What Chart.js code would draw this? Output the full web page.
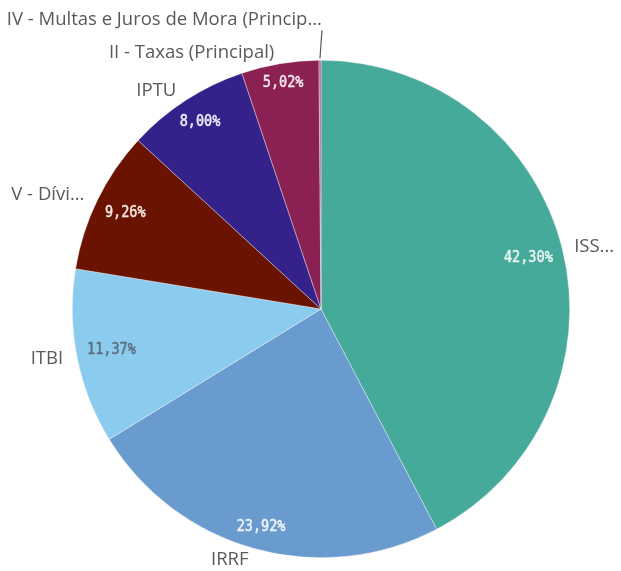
<!DOCTYPE html>
<html>
<head>
<meta charset="utf-8">
<script src="https://cdn.jsdelivr.net/npm/chart.js@4/dist/chart.umd.min.js"></script>
<style>
  html, body { margin: 0; padding: 0; background: #fff; }
</style>
</head>
<body>
<canvas id="myChart" width="621" height="571"></canvas>
<script>
const categories = ['ISS...', 'IRRF', 'ITBI', 'V - Dívi...', 'IPTU', 'II - Taxas (Principal)', 'IV - Multas e Juros de Mora (Princip...'];
const shares = [42.30, 23.92, 11.37, 9.26, 8.00, 5.02, 0.13];
const shareLabels = ['42,30%', '23,92%', '11,37%', '9,26%', '8,00%', '5,02%', ''];
const colors = ['#45aa99', '#6a9bce', '#8acbee', '#6a1300', '#35218a', '#8a2152', '#c85aa2'];
const valueColors = ['#e9f5f1', '#eef3fa', '#5d6f80', '#f1e6e2', '#ece9f6', '#f3e6ec', '#ffffff'];

// draws the outside names and the inside percentages
const sliceLabels = {
  id: 'sliceLabels',
  afterDatasetsDraw(chart) {
    const ctx = chart.ctx;
    const arcs = chart.getDatasetMeta(0).data;
    ctx.save();
    arcs.forEach((arc, i) => {
      const p = arc.getProps(['x', 'y', 'startAngle', 'endAngle', 'outerRadius']);
      const mid = (p.startAngle + p.endAngle) / 2;
      const cos = Math.cos(mid), sin = Math.sin(mid);
      const r = p.outerRadius;

      // percentage inside, pushed out towards the rim
      if (shareLabels[i]) {
        ctx.font = '15px "DejaVu Sans Mono"';
        const w = ctx.measureText(shareLabels[i]).width * 0.9;
        const h = 12;
        const d = r - 10 - Math.abs(cos) * w / 2 - Math.abs(sin) * h / 2;
        ctx.save();
        ctx.translate(p.x + cos * d, p.y + sin * d);
        ctx.scale(0.9, 1);
        ctx.fillStyle = valueColors[i];
        ctx.strokeStyle = valueColors[i];
        ctx.lineWidth = 0.5;
        ctx.textAlign = 'center';
        ctx.textBaseline = 'middle';
        ctx.fillText(shareLabels[i], 0, 0);
        ctx.strokeText(shareLabels[i], 0, 0);
        ctx.restore();
      }

      // name outside
      ctx.font = '18.5px "Open Sans"';
      ctx.fillStyle = '#595959';
      ctx.textBaseline = 'middle';
      let lx, ly;
      if (shares[i] < 1) {
        // tiny slice gets a leader line
        ctx.strokeStyle = '#595959';
        ctx.lineWidth = 1.2;
        ctx.beginPath();
        ctx.moveTo(p.x + cos * (r + 2), p.y + sin * (r + 2));
        ctx.lineTo(p.x + cos * (r + 2) + 2, p.y + sin * (r + 30));
        ctx.stroke();
        lx = p.x + cos * r + 2;
        ly = p.y + sin * (r + 41);
        ctx.textAlign = 'right';
      } else {
        lx = p.x + cos * (r + 10);
        ly = p.y + sin * (r + 11);
        ctx.textAlign = cos >= 0 ? 'left' : 'right';
        if (cos >= 0) lx += 2; else lx -= 4;
      }
      ctx.fillText(categories[i], lx, ly);
    });
    ctx.restore();
  }
};

const ctx = document.getElementById('myChart');
new Chart(ctx, {
  type: 'pie',
  data: {
    labels: categories,
    datasets: [{
      data: shares,
      backgroundColor: colors,
      borderColor: 'rgba(255,255,255,0.6)',
      borderWidth: 0.6
    }]
  },
  options: {
    responsive: false,
    animation: false,
    layout: { padding: { left: 21, right: 0, top: 60, bottom: 13 } },
    plugins: {
      legend: { display: false },
      tooltip: { enabled: false }
    }
  },
  plugins: [sliceLabels]
});
</script>
</body>
</html>
